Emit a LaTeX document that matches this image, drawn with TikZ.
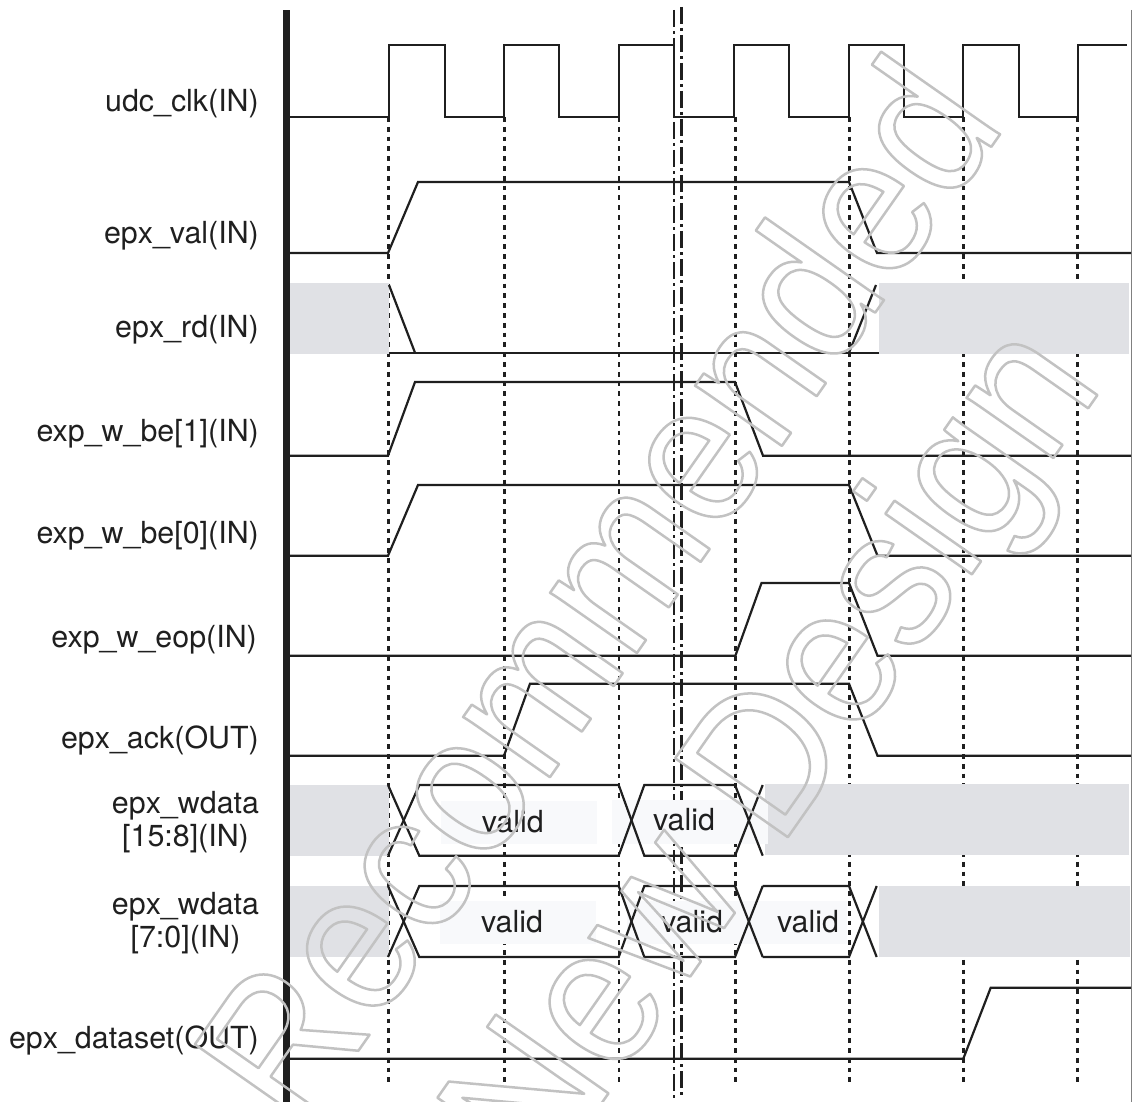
\documentclass[tikz,border=0pt]{standalone}
\usepackage{xcolor}
\usepackage{fontspec}
\setmainfont{TeX Gyre Heros}
\newfontfamily\markfont[FakeStretch=0.91]{Liberation Sans}
\usepackage{tikz}
\definecolor{ink}{HTML}{1F1F1F}
\definecolor{unknown}{HTML}{E0E1E5}
\definecolor{pale}{HTML}{F8F9FB}
\newcommand{\outlined}[1]{\special{pdf:code q 1 Tr 2.5 w 1 j 0.76 G}#1\special{pdf:code Q}}
\tikzset{
  sigline/.style={draw=ink,line width=2.2pt,line join=miter},
  gridline/.style={draw=ink,line width=2.5pt,dash pattern=on 4.8pt off 5pt},
  breakline/.style={draw=ink,line width=2.5pt,dash pattern=on 17pt off 4pt on 3pt off 4pt},
  axisbar/.style={fill=ink},
  dontcare/.style={fill=unknown},
  valbox/.style={fill=pale},
  siglabel/.style={font=\fontsize{30.4}{33}\selectfont,text=ink,anchor=base east,inner sep=0pt},
  buslabel/.style={font=\fontsize{30.4}{33}\selectfont,text=ink,align=center,inner sep=0pt},
  vallabel/.style={font=\fontsize{30.4}{33}\selectfont,text=ink,inner sep=0pt,anchor=base},
  markword/.style={font=\markfont\fontsize{200}{200}\selectfont,rotate=55,anchor=base,inner sep=0pt},
}
\begin{document}
\begin{tikzpicture}[x=1pt,y=-1pt]
    \useasboundingbox (0,0) rectangle (1132,1102);
    % grid of clock edges
    \foreach \x in {388.3,504.5,619,735.3,849.3,963.3,1077.7} \draw[gridline] (\x,117) -- (\x,1082);
    \draw[breakline] (674,10) -- (674,1098);
    \draw[breakline] (681.7,7) -- (681.7,1097);
    % undefined and valid regions
    \foreach \xa/\ya/\xb/\yb in {289/283/389/353.7,879/283/1129/353.7,289/785/389/856,765/784/1129/855,289/886/389/957,879/886/1130/957}
      \fill[dontcare] (\xa,\ya) rectangle (\xb,\yb);
    \foreach \xa/\ya/\xb/\yb in {441/801/596.7/844.3,611.7/800/768.3/844,440/901/596/944.3,627/901/847/944.3}
      \fill[valbox] (\xa,\ya) rectangle (\xb,\yb);
    \fill[axisbar] (283,10) rectangle (290,1102);
    \draw[gray,line width=1pt] (1131.5,10) -- (1131.5,1102);
    % waveforms
    \draw[sigline] (290,116.7) -- (389,116.7) -- (389,45) -- (444.7,45) -- (444.7,116.7) -- (504,116.7) -- (504,45) -- (559.3,45) -- (559.3,116.7) -- (618.7,116.7) -- (618.7,45) -- (674,45) -- (674,116.7) -- (734,116.7) -- (734,45) -- (789.3,45) -- (789.3,116.7) -- (848.7,116.7) -- (848.7,45) -- (904,45) -- (904,116.7) -- (963.3,116.7) -- (963.3,45) -- (1019,45) -- (1019,116.7) -- (1078.3,116.7) -- (1078.3,45) -- (1127,45);
    \draw[sigline] (290,253) -- (388,253) -- (418,182) -- (849,182) -- (877,253) -- (1131,253);
    \draw[sigline] (389,285) -- (415,352.7);
    \draw[sigline] (389,352.7) -- (879,352.7);
    \draw[sigline] (849,352.7) -- (876,285);
    \draw[sigline] (290,455.7) -- (388,455.7) -- (415,382) -- (735,382) -- (763,455.7) -- (1131,455.7);
    \draw[sigline] (290,555.7) -- (388,555.7) -- (418,485) -- (849,485) -- (877.5,555.7) -- (1131,555.7);
    \draw[sigline] (290,655.7) -- (735.4,655.7) -- (761.5,583) -- (849,583) -- (877.5,655.7) -- (1131,655.7);
    \draw[sigline] (290,755.7) -- (504,755.7) -- (530,683.7) -- (849,683.7) -- (877.5,755.7) -- (1131,755.7);
    % data buses
    \foreach \top/\low in {785/855.7,886/957}{
      \draw[sigline] (388,\top) -- (419.3,\low) -- (618.7,\low) -- (644.3,\top) -- (735,\top) -- (762.7,\low);
      \draw[sigline] (388,\low) -- (419.3,\top) -- (618.7,\top) -- (644.3,\low) -- (735,\low) -- (762.7,\top);
    }
    \draw[sigline] (762.7,886) -- (849,886) -- (876.7,957);
    \draw[sigline] (762.7,957) -- (849,957) -- (876.7,886);
    \draw[sigline] (290,1058.7) -- (963.3,1058.7) -- (990.7,987.7) -- (1131,987.7);
    % signal names
    \node[siglabel] (clk) at (259,112) {udc\_clk(IN)};
    \node[siglabel] (val) at (259,243) {epx\_val(IN)};
    \node[siglabel] (rd) at (259,337) {epx\_rd(IN)};
    \node[siglabel] (beone) at (259,441) {exp\_w\_be[1](IN)};
    \node[siglabel] (bezero) at (259,543) {exp\_w\_be[0](IN)};
    \node[siglabel] (eop) at (257,647) {exp\_w\_eop(IN)};
    \node[siglabel] (ack) at (259,748) {epx\_ack(OUT)};
    \node[buslabel] (wdatahi) at (185.5,822) {epx\_wdata\\{[15:8]}(IN)};
    \node[buslabel] (wdatalo) at (185.5,923) {epx\_wdata\\{[7:0]}(IN)};
    \node[siglabel] (dataset) at (259,1048) {epx\_dataset(OUT)};
    \node[vallabel] (vala) at (512.7,832) {valid};
    \node[vallabel] (valb) at (684,830) {valid};
    \node[vallabel] (valc) at (512,932) {valid};
    \node[vallabel] (vald) at (692,932) {valid};
    \node[vallabel] (vale) at (808,932) {valid};
    % watermark
    \begin{scope}
      \clip (0,0) rectangle (1132,1102);
      \node[markword] (markone) at (653,630) {\outlined{Recommended}};
      \node[markword] (marktwo) at (823,787) {\outlined{New Design}};
    \end{scope}
\end{tikzpicture}
\end{document}
